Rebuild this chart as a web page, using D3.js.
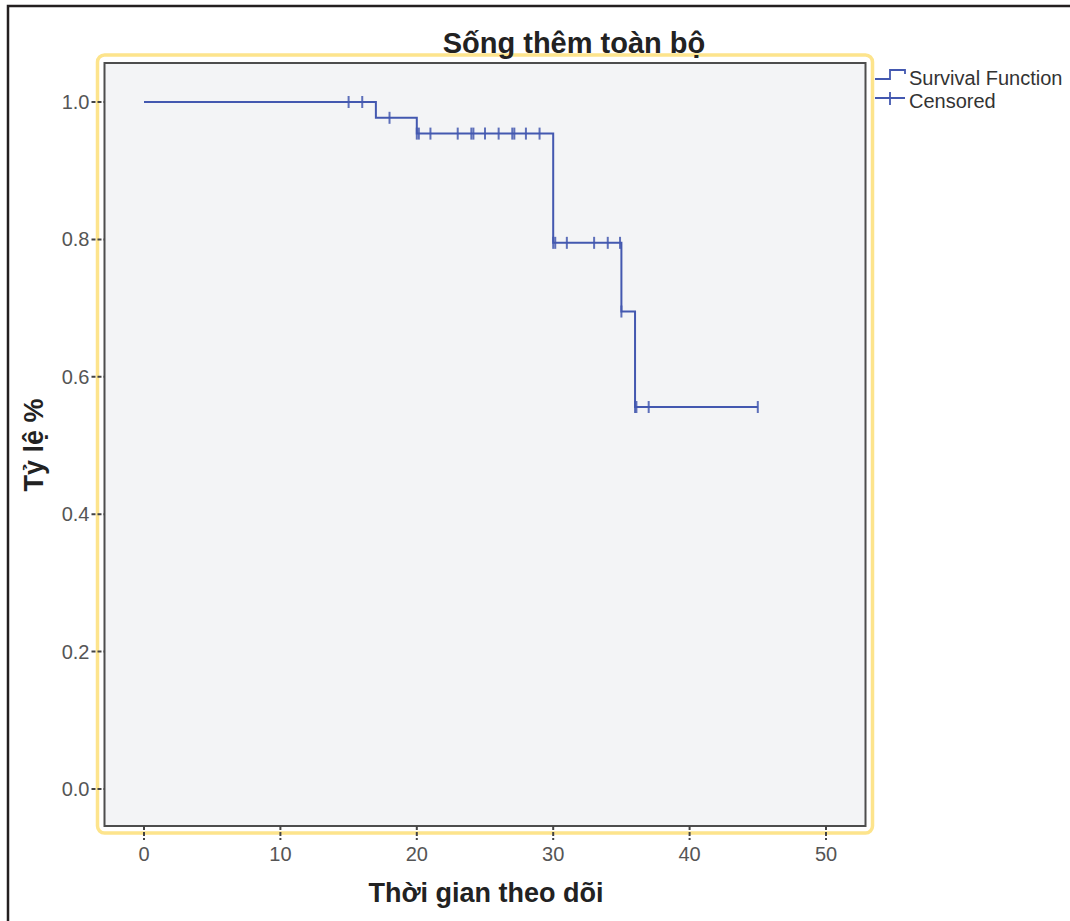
<!DOCTYPE html>
<html>
<head>
<meta charset="utf-8">
<script src="https://cdn.jsdelivr.net/npm/d3@7"></script>
<style>
  body { margin: 0; background: #fff; }
  text { font-family: "Liberation Sans", Arial, sans-serif; }
</style>
</head>
<body>
<svg width="1070" height="921"></svg>
<script>
// survival steps (time, survival after drop)
const stepTimes = [0, 17, 20, 30, 35, 36];
const stepSurv = [1.0, 0.977, 0.954, 0.795, 0.695, 0.556];
const endTime = 45;

// censored times
const censorTimes = [15, 16, 18, 20, 20.15, 21, 23, 24, 24.15, 25, 26, 27, 27.15, 28, 29,
  30, 30.15, 31, 33, 34, 35, 34.9, 36, 36.1, 37, 45];

const xTicks = [0, 10, 20, 30, 40, 50];
const yTicks = [0.0, 0.2, 0.4, 0.6, 0.8, 1.0];

const lineColor = "#4358b0";
const box = { l: 104.5, t: 63, r: 865.5, b: 826 };
const svg = d3.select("svg");

// outer black frame (only top and left visible)
svg.append("path")
  .attr("d", "M8,921 V6 H1070")
  .attr("fill", "none")
  .attr("stroke", "#231f20")
  .attr("stroke-width", 2.5);

const x = d3.scaleLinear().domain([0, 50]).range([144, 826]);
const y = d3.scaleLinear().domain([0, 1]).range([789, 102]);

// yellow rounded border
svg.append("rect")
  .attr("x", box.l - 7).attr("y", box.t - 8)
  .attr("width", box.r - box.l + 14).attr("height", box.b - box.t + 15)
  .attr("rx", 7)
  .attr("fill", "none")
  .attr("stroke", "#fde48c")
  .attr("stroke-width", 3.5);

// plot box
svg.append("rect")
  .attr("x", box.l).attr("y", box.t)
  .attr("width", box.r - box.l).attr("height", box.b - box.t)
  .attr("fill", "#f3f4f6")
  .attr("stroke", "#4d4d4d")
  .attr("stroke-width", 2);

// ticks
const tickG = svg.append("g");
tickG.selectAll("line.yt").data(yTicks).join("line")
  .attr("x1", box.l - 13).attr("x2", box.l)
  .attr("y1", d => y(d)).attr("y2", d => y(d))
  .attr("stroke", "#444").attr("stroke-width", 2)
  .attr("stroke-dasharray", "4,2");
tickG.selectAll("text.yl").data(yTicks).join("text")
  .attr("x", box.l - 15).attr("y", d => y(d) + 7)
  .attr("text-anchor", "end")
  .attr("font-size", 20).attr("fill", "#555")
  .text(d => d3.format(".1f")(d));

tickG.selectAll("line.xt").data(xTicks).join("line")
  .attr("x1", d => x(d)).attr("x2", d => x(d))
  .attr("y1", box.b).attr("y2", box.b + 14)
  .attr("stroke", "#444").attr("stroke-width", 2)
  .attr("stroke-dasharray", "4,2");
tickG.selectAll("text.xl").data(xTicks).join("text")
  .attr("x", d => x(d)).attr("y", box.b + 35)
  .attr("text-anchor", "middle")
  .attr("font-size", 20).attr("fill", "#555")
  .text(d => d);

// survival step line
const pts = [];
stepTimes.forEach((t, i) => {
  if (i > 0) pts.push([t, stepSurv[i - 1]]);
  pts.push([t, stepSurv[i]]);
});
pts.push([endTime, stepSurv[stepSurv.length - 1]]);

svg.append("path")
  .datum(pts)
  .attr("fill", "none")
  .attr("stroke", lineColor)
  .attr("stroke-width", 2)
  .attr("d", d3.line().x(d => x(d[0])).y(d => y(d[1])));

function survAt(t) {
  let s = 1;
  stepTimes.forEach((st, i) => { if (st <= t) s = stepSurv[i]; });
  return s;
}

// censored marks
svg.append("g").selectAll("line").data(censorTimes).join("line")
  .attr("x1", d => x(d)).attr("x2", d => x(d))
  .attr("y1", d => y(survAt(d)) - 6).attr("y2", d => y(survAt(d)) + 6)
  .attr("stroke", lineColor).attr("stroke-width", 2)
  .attr("opacity", 0.85);

// title + axis titles
svg.append("text")
  .attr("x", 574).attr("y", 53)
  .attr("text-anchor", "middle")
  .attr("font-size", 29).attr("font-weight", "bold").attr("fill", "#222")
  .text("Sống thêm toàn bộ");

svg.append("text")
  .attr("x", 486).attr("y", 902)
  .attr("text-anchor", "middle")
  .attr("font-size", 27).attr("font-weight", "bold").attr("fill", "#222")
  .text("Thời gian theo dõi");

svg.append("text")
  .attr("transform", "translate(43,445) rotate(-90)")
  .attr("text-anchor", "middle")
  .attr("font-size", 27).attr("font-weight", "bold").attr("fill", "#222")
  .text("Tỷ lệ %");

// legend
const leg = svg.append("g");
leg.append("path")
  .attr("d", "M875,79 H890 V70 H905 V74")
  .attr("fill", "none").attr("stroke", lineColor).attr("stroke-width", 1.8);
leg.append("path")
  .attr("d", "M875,98 H905 M890,92 V105")
  .attr("fill", "none").attr("stroke", lineColor).attr("stroke-width", 1.8);
leg.append("text").attr("x", 909).attr("y", 85)
  .attr("font-size", 20).attr("fill", "#333").text("Survival Function");
leg.append("text").attr("x", 909).attr("y", 108)
  .attr("font-size", 20).attr("fill", "#333").text("Censored");
</script>
</body>
</html>
